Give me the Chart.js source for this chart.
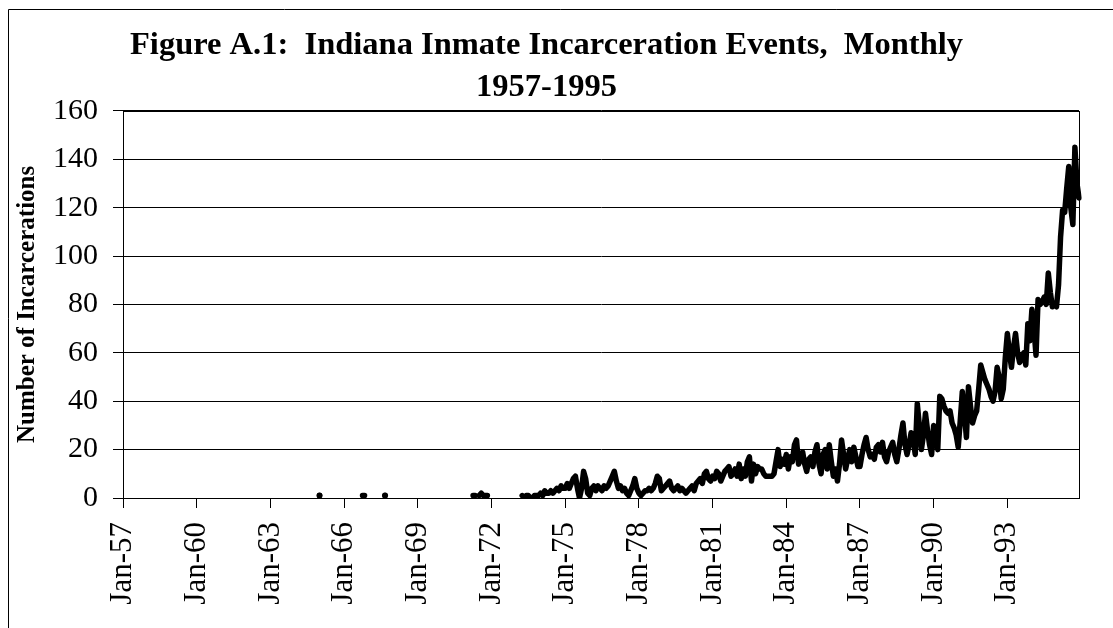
<!DOCTYPE html>
<html>
<head>
<meta charset="utf-8">
<script src="https://cdn.jsdelivr.net/npm/chart.js@4.4.1/dist/chart.umd.min.js"></script>
<style>
  html, body { margin: 0; padding: 0; background: #fff; }
  #wrap { width: 1113px; height: 628px; }
</style>
</head>
<body>
<div id="wrap"><canvas id="incChart" width="1113" height="628"></canvas></div>
<script>
const monthNames = ["Jan", "Feb", "Mar", "Apr", "May", "Jun", "Jul", "Aug", "Sep", "Oct", "Nov", "Dec"];
const years = [1957, 1958, 1959, 1960, 1961, 1962, 1963, 1964, 1965, 1966, 1967, 1968, 1969,
               1970, 1971, 1972, 1973, 1974, 1975, 1976, 1977, 1978, 1979, 1980, 1981, 1982,
               1983, 1984, 1985, 1986, 1987, 1988, 1989, 1990, 1991, 1992, 1993, 1994, 1995];

// monthly incarceration events, one array per year (null = no events recorded)
const _ = null;
const inc1957 = [_, _, _, _, _, _, _, _, _, _, _, _];
const inc1958 = [_, _, _, _, _, _, _, _, _, _, _, _];
const inc1959 = [_, _, _, _, _, _, _, _, _, _, _, _];
const inc1960 = [_, _, _, _, _, _, _, _, _, _, _, _];
const inc1961 = [_, _, _, _, _, _, _, _, _, _, _, _];
const inc1962 = [_, _, _, _, _, _, _, _, _, _, _, _];
const inc1963 = [_, _, _, _, _, _, _, _, _, _, _, _];
const inc1964 = [_, _, _, _, _, _, _, _, _, _, _, _];
const inc1965 = [1, _, _, _, _, _, _, _, _, _, _, _];
const inc1966 = [_, _, _, _, _, _, _, _, _, 1, 1, _];
const inc1967 = [_, _, _, _, _, _, _, _, 1, _, _, _];
const inc1968 = [_, _, _, _, _, _, _, _, _, _, _, _];
const inc1969 = [_, _, _, _, _, _, _, _, _, _, _, _];
const inc1970 = [_, _, _, _, _, _, _, _, _, _, _, _];
const inc1971 = [_, _, _, 1, 1, _, 1, 2, 1, 1, 1, _];
const inc1972 = [_, _, _, _, _, _, _, _, _, _, _, _];
const inc1973 = [_, _, _, 1, 0, 1, 1, 0, 0, 1, 1, 1];
const inc1974 = [2, 1, 3, 2, 2, 3, 2, 3, 4, 3, 5, 4];
const inc1975 = [4, 6, 4, 6, 8, 9, 4, 0, 4, 11, 8, 2];
const inc1976 = [1, 4, 5, 3, 5, 4, 3, 5, 4, 5, 7, 9];
const inc1977 = [11, 7, 4, 5, 3, 4, 2, 1, 3, 5, 8, 4];
const inc1978 = [2, 1, 2, 3, 3, 4, 3, 4, 6, 9, 8, 3];
const inc1979 = [4, 5, 6, 7, 4, 3, 4, 5, 3, 4, 3, 2];
const inc1980 = [3, 4, 5, 3, 6, 7, 8, 6, 10, 11, 8, 7];
const inc1981 = [9, 8, 11, 10, 7, 9, 11, 12, 13, 9, 10, 12];
const inc1982 = [9, 14, 8, 12, 9, 15, 17, 7, 14, 10, 13, 12];
const inc1983 = [12, 10, 9, 9, 9, 9, 10, 15, 20, 13, 16, 14];
const inc1984 = [18, 12, 17, 15, 22, 24, 14, 16, 19, 14, 11, 16];
const inc1985 = [17, 13, 19, 22, 14, 10, 18, 20, 12, 22, 15, 9];
const inc1986 = [12, 7, 14, 24, 18, 12, 16, 20, 15, 21, 17, 13];
const inc1987 = [13, 18, 22, 25, 20, 17, 18, 16, 21, 22, 19, 23];
const inc1988 = [17, 15, 19, 21, 23, 18, 15, 20, 26, 31, 22, 18];
const inc1989 = [22, 27, 24, 18, 39, 30, 20, 26, 35, 28, 22, 18];
const inc1990 = [30, 25, 20, 42, 41, 38, 36, 35, 36, 31, 29, 26];
const inc1991 = [21, 32, 44, 35, 25, 46, 38, 31, 34, 36, 45, 55];
const inc1992 = [52, 49, 47, 45, 42, 40, 44, 54, 50, 41, 45, 58];
const inc1993 = [68, 60, 54, 62, 68, 60, 56, 58, 60, 55, 72, 65];
const inc1994 = [78, 70, 59, 82, 80, 81, 83, 80, 93, 85, 79, 80];
const inc1995 = [79, 88, 108, 119, 118, 128, 137, 120, 113, 145, 130, 124];

const incarcerations = [].concat(
    inc1957, inc1958, inc1959, inc1960, inc1961, inc1962, inc1963, inc1964,
    inc1965, inc1966, inc1967, inc1968, inc1969, inc1970, inc1971, inc1972,
    inc1973, inc1974, inc1975, inc1976, inc1977, inc1978, inc1979, inc1980,
    inc1981, inc1982, inc1983, inc1984, inc1985, inc1986, inc1987, inc1988,
    inc1989, inc1990, inc1991, inc1992, inc1993, inc1994, inc1995
);

const labels = [];
years.forEach(y => {
    monthNames.forEach(m => labels.push(m + "-" + String(y).slice(2)));
});

const serif = "'Liberation Serif', 'Times New Roman', serif";

// outer figure frame + plot area box
const framePlugin = {
    id: "frame",
    afterDraw(chart) {
        const ctx = chart.ctx;
        const a = chart.chartArea;
        ctx.save();
        ctx.strokeStyle = "#000";
        ctx.lineWidth = 1;
        ctx.beginPath();
        ctx.moveTo(8.5, 628);
        ctx.lineTo(8.5, 9.5);
        ctx.lineTo(1113, 9.5);
        ctx.stroke();
        ctx.strokeRect(Math.round(a.left) + 0.5, Math.round(a.top) + 0.5,
                       Math.round(a.right - a.left), Math.round(a.bottom - a.top));
        ctx.restore();
    }
};

// isolated months only show as a dot
function isolated(ctx) {
    const i = ctx.dataIndex;
    const d = incarcerations;
    if (d[i] === null) return 0;
    const prev = i > 0 ? d[i - 1] : null;
    const next = i < d.length - 1 ? d[i + 1] : null;
    return (prev === null && next === null) ? 3 : 0;
}

const incChart = new Chart(document.getElementById("incChart"), {
    type: "line",
    data: {
        labels: labels,
        datasets: [
            {
                label: "Incarcerations",
                data: incarcerations,
                borderColor: "#000",
                backgroundColor: "#000",
                borderWidth: 5.5,
                borderJoinStyle: "round",
                borderCapStyle: "round",
                tension: 0,
                spanGaps: false,
                pointRadius: isolated,
                pointBorderWidth: 0,
                pointHoverRadius: 0,
                pointHitRadius: 0
            }
        ]
    },
    plugins: [framePlugin],
    options: {
        responsive: false,
        animation: false,
        layout: { padding: { left: 14, right: 34, top: 10, bottom: 0 } },
        plugins: {
            legend: { display: false },
            tooltip: { enabled: false },
            title: {
                display: true,
                text: ["Figure A.1:  Indiana Inmate Incarceration Events,  Monthly", "1957-1995"],
                color: "#000",
                font: { family: serif, size: 32.5, weight: "bold", lineHeight: 1.29 },
                padding: { top: 15, bottom: 2 }
            }
        },
        scales: {
            x: {
                type: "category",
                offset: false,
                afterBuildTicks: axis => {
                    axis.ticks = axis.ticks.filter(t => t.value % 36 === 0);
                },
                afterFit: axis => { axis.height = 130; },
                grid: {
                    display: true,
                    drawOnChartArea: false,
                    drawTicks: true,
                    tickLength: 10,
                    color: "#000"
                },
                border: { display: true, color: "#000", width: 1 },
                ticks: {
                    autoSkip: false,
                    minRotation: 90,
                    maxRotation: 90,
                    padding: 14,
                    color: "#000",
                    font: { family: serif, size: 31 }
                }
            },
            y: {
                min: 0,
                max: 160,
                afterFit: axis => { axis.width = 109; },
                grid: {
                    color: "#000",
                    lineWidth: 1,
                    drawTicks: true,
                    tickLength: 10
                },
                border: { display: true, color: "#000", width: 1 },
                ticks: {
                    stepSize: 20,
                    padding: 15,
                    color: "#000",
                    font: { family: serif, size: 30 }
                },
                title: {
                    display: true,
                    text: "Number of Incarcerations",
                    color: "#000",
                    font: { family: serif, size: 25, weight: "bold" },
                    padding: { top: -1, bottom: 0 }
                }
            }
        }
    }
});
</script>
</body>
</html>
